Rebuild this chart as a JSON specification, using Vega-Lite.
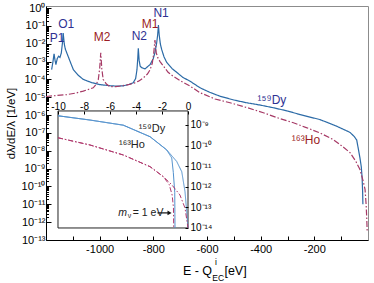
{
"$schema": "https://vega.github.io/schema/vega-lite/v6.json",
"width": 322, "height": 234,
"autosize": {"type": "none"},
"padding": {"left": 46, "top": 6, "right": 6, "bottom": 43},
"background": "white",
"config": {
  "font": "Liberation Sans",
  "view": {"stroke": "#8c8c8c", "strokeWidth": 1},
  "axis": {"labelFont": "Liberation Sans", "titleFont": "Liberation Sans", "labelColor": "#000", "tickColor": "#000", "domainColor": "#000", "grid": false, "labelFontSize": 10, "titleFontWeight": "normal", "titleColor": "#000"}
},
"datasets": {
  "main": [
    {"s":"Dy","E":-1179,"v":3.5e-4},{"s":"Dy","E":-1174,"v":1.0e-3},{"s":"Dy","E":-1170,"v":2.7e-3},{"s":"Dy","E":-1166,"v":1.1e-3},{"s":"Dy","E":-1163,"v":6.8e-4},{"s":"Dy","E":-1158,"v":1.5e-3},{"s":"Dy","E":-1153,"v":2.0e-3},{"s":"Dy","E":-1148,"v":1.7e-3},{"s":"Dy","E":-1143,"v":3.0e-3},{"s":"Dy","E":-1139,"v":1.0e-2},{"s":"Dy","E":-1136,"v":4.0e-2},{"s":"Dy","E":-1132,"v":1.0e-2},{"s":"Dy","E":-1128,"v":5.0e-3},{"s":"Dy","E":-1123,"v":3.2e-3},{"s":"Dy","E":-1110,"v":1.0e-3},{"s":"Dy","E":-1098,"v":3.5e-4},{"s":"Dy","E":-1080,"v":1.7e-4},{"s":"Dy","E":-1061,"v":1.0e-4},{"s":"Dy","E":-1030,"v":6.6e-5},{"s":"Dy","E":-999,"v":5.1e-5},{"s":"Dy","E":-960,"v":4.4e-5},{"s":"Dy","E":-936,"v":4.2e-5},{"s":"Dy","E":-910,"v":4.4e-5},{"s":"Dy","E":-890,"v":5.3e-5},{"s":"Dy","E":-875,"v":6.5e-5},{"s":"Dy","E":-866,"v":1.1e-4},{"s":"Dy","E":-861,"v":3.5e-4},{"s":"Dy","E":-858,"v":1.5e-3},{"s":"Dy","E":-856,"v":5.5e-3},{"s":"Dy","E":-853,"v":1.2e-3},{"s":"Dy","E":-849,"v":5.5e-4},{"s":"Dy","E":-843,"v":4.5e-4},{"s":"Dy","E":-831,"v":3.9e-4},{"s":"Dy","E":-812,"v":6.8e-4},{"s":"Dy","E":-800,"v":1.5e-3},{"s":"Dy","E":-794,"v":3.2e-3},{"s":"Dy","E":-788,"v":1.0e-2},{"s":"Dy","E":-784,"v":3.0e-2},{"s":"Dy","E":-781,"v":1.1e-1},{"s":"Dy","E":-778,"v":3.0e-2},{"s":"Dy","E":-774,"v":1.0e-2},{"s":"Dy","E":-769,"v":4.8e-3},{"s":"Dy","E":-760,"v":1.8e-3},{"s":"Dy","E":-750,"v":8.9e-4},{"s":"Dy","E":-730,"v":4.0e-4},{"s":"Dy","E":-713,"v":2.5e-4},{"s":"Dy","E":-690,"v":1.3e-4},{"s":"Dy","E":-663,"v":7.9e-5},{"s":"Dy","E":-626,"v":3.4e-5},{"s":"Dy","E":-590,"v":1.9e-5},{"s":"Dy","E":-552,"v":1.15e-5},{"s":"Dy","E":-500,"v":7.0e-6},{"s":"Dy","E":-452,"v":4.9e-6},{"s":"Dy","E":-400,"v":3.6e-6},{"s":"Dy","E":-354,"v":2.6e-6},{"s":"Dy","E":-300,"v":1.7e-6},{"s":"Dy","E":-253,"v":1.07e-6},{"s":"Dy","E":-179,"v":5.6e-7},{"s":"Dy","E":-117,"v":2.4e-7},{"s":"Dy","E":-67,"v":1.07e-7},{"s":"Dy","E":-52,"v":6.5e-8},{"s":"Dy","E":-42,"v":4.0e-8},{"s":"Dy","E":-36,"v":1.26e-8},{"s":"Dy","E":-30,"v":4.0e-9},{"s":"Dy","E":-25,"v":1.26e-9},{"s":"Dy","E":-22,"v":3.2e-10},{"s":"Dy","E":-20,"v":5.0e-11},{"s":"Dy","E":-19,"v":1.0e-11},
    {"s":"Ho","E":-1200,"v":1.1e-5},{"s":"Ho","E":-1160,"v":1.25e-5},{"s":"Ho","E":-1123,"v":1.4e-5},{"s":"Ho","E":-1090,"v":1.7e-5},{"s":"Ho","E":-1061,"v":2.2e-5},{"s":"Ho","E":-1040,"v":2.8e-5},{"s":"Ho","E":-1024,"v":3.4e-5},{"s":"Ho","E":-1012,"v":5.5e-5},{"s":"Ho","E":-1005,"v":1.0e-4},{"s":"Ho","E":-1000,"v":4.0e-4},{"s":"Ho","E":-996,"v":3.1e-3},{"s":"Ho","E":-992,"v":4.0e-4},{"s":"Ho","E":-987,"v":1.0e-4},{"s":"Ho","E":-975,"v":5.5e-5},{"s":"Ho","E":-961,"v":3.9e-5},{"s":"Ho","E":-940,"v":3.9e-5},{"s":"Ho","E":-920,"v":4.3e-5},{"s":"Ho","E":-900,"v":4.8e-5},{"s":"Ho","E":-875,"v":5.9e-5},{"s":"Ho","E":-855,"v":8.0e-5},{"s":"Ho","E":-837,"v":1.23e-4},{"s":"Ho","E":-822,"v":2.0e-4},{"s":"Ho","E":-812,"v":3.5e-4},{"s":"Ho","E":-804,"v":8.0e-4},{"s":"Ho","E":-799,"v":2.5e-3},{"s":"Ho","E":-794,"v":1.6e-2},{"s":"Ho","E":-789,"v":3.0e-3},{"s":"Ho","E":-783,"v":1.6e-3},{"s":"Ho","E":-775,"v":1.0e-3},{"s":"Ho","E":-760,"v":5.0e-4},{"s":"Ho","E":-745,"v":2.5e-4},{"s":"Ho","E":-726,"v":1.5e-4},{"s":"Ho","E":-700,"v":8.5e-5},{"s":"Ho","E":-663,"v":4.2e-5},{"s":"Ho","E":-626,"v":1.8e-5},{"s":"Ho","E":-570,"v":8.0e-6},{"s":"Ho","E":-514,"v":4.9e-6},{"s":"Ho","E":-450,"v":2.6e-6},{"s":"Ho","E":-390,"v":1.35e-6},{"s":"Ho","E":-330,"v":6.5e-7},{"s":"Ho","E":-278,"v":3.7e-7},{"s":"Ho","E":-230,"v":2.0e-7},{"s":"Ho","E":-179,"v":1.0e-7},{"s":"Ho","E":-130,"v":4.3e-8},{"s":"Ho","E":-100,"v":2.0e-8},{"s":"Ho","E":-67,"v":7.9e-9},{"s":"Ho","E":-45,"v":2.5e-9},{"s":"Ho","E":-30,"v":8.9e-10},{"s":"Ho","E":-18,"v":2e-10},{"s":"Ho","E":-11,"v":6.8e-11},{"s":"Ho","E":-7,"v":1e-11},{"s":"Ho","E":-5,"v":2.2e-12},{"s":"Ho","E":-3,"v":3e-13}
  ],
  "mainlab": [
    {"t":"P1","E":-1159,"v":0.022,"g":"b"},
    {"t":"O1","E":-1125,"v":0.135,"g":"b"},
    {"t":"M2","E":-991,"v":0.0224,"g":"r"},
    {"t":"N2","E":-852,"v":0.0263,"g":"b"},
    {"t":"M1","E":-812,"v":0.12,"g":"r"},
    {"t":"N1","E":-771,"v":0.537,"g":"b"},
    {"t":"¹⁵⁹Dy","E":-358,"v":7.4e-6,"g":"b"},
    {"t":"¹⁶³Ho","E":-231,"v":3.8e-8,"g":"r"}
  ],
  "xt_big_r": [{"t":"E - Q","E":-581,"v":1.8e-15}],
  "xt_big_l": [{"t":"[eV]","E":-535,"v":1.8e-15}],
  "xt_small": [{"t":"i","E":-567,"v":5.9e-15},{"t":"EC","E":-558,"v":7.4e-16}],
  "inset": [
    {"s":"Dy0","x":-10,"v":2.8e-9},{"s":"Dy0","x":-7.54,"v":1.74e-9},{"s":"Dy0","x":-4.98,"v":9.8e-10},{"s":"Dy0","x":-2.92,"v":2.7e-10},{"s":"Dy0","x":-1.64,"v":6.2e-11},{"s":"Dy0","x":-0.87,"v":1.7e-11},{"s":"Dy0","x":-0.48,"v":5.4e-12},{"s":"Dy0","x":-0.23,"v":5.8e-13},{"s":"Dy0","x":-0.1,"v":6.3e-14},{"s":"Dy0","x":0,"v":1e-14},
    {"s":"Dy1","x":-10,"v":2.8e-9},{"s":"Dy1","x":-7.54,"v":1.74e-9},{"s":"Dy1","x":-4.98,"v":9.8e-10},{"s":"Dy1","x":-2.92,"v":2.7e-10},{"s":"Dy1","x":-1.64,"v":6.2e-11},{"s":"Dy1","x":-1.25,"v":2.5e-11},{"s":"Dy1","x":-1.13,"v":5e-12},{"s":"Dy1","x":-1.02,"v":5.4e-13},{"s":"Dy1","x":-1.0,"v":1e-14},
    {"s":"Ho0","x":-10,"v":2.4e-10},{"s":"Ho0","x":-7.54,"v":1.07e-10},{"s":"Ho0","x":-4.98,"v":3.5e-11},{"s":"Ho0","x":-2.92,"v":9.5e-12},{"s":"Ho0","x":-1.9,"v":3.1e-12},{"s":"Ho0","x":-1.25,"v":1.26e-12},{"s":"Ho0","x":-0.62,"v":4e-13},{"s":"Ho0","x":-0.23,"v":9.3e-14},{"s":"Ho0","x":0,"v":1e-14},
    {"s":"Ho1","x":-10,"v":2.4e-10},{"s":"Ho1","x":-7.54,"v":1.07e-10},{"s":"Ho1","x":-4.98,"v":3.5e-11},{"s":"Ho1","x":-2.92,"v":9.5e-12},{"s":"Ho1","x":-1.9,"v":3.1e-12},{"s":"Ho1","x":-1.45,"v":1.3e-12},{"s":"Ho1","x":-1.22,"v":4e-13},{"s":"Ho1","x":-1.12,"v":1e-13},{"s":"Ho1","x":-1.1,"v":1e-14}
  ],
  "frame": [{"x":-10,"x2":0,"v":1e-14,"v2":4.8e-9}],
  "insetlab": [
    {"t":"¹⁵⁹Dy","x":-2.77,"v":6.5e-10},
    {"t":"¹⁶³Ho","x":-4.31,"v":1.07e-10}
  ],
  "mlab_m": [{"t":"m","x":-4.69,"v":5.4e-14}],
  "mlab_nu": [{"t":"ν","x":-4.5,"v":3.9e-14}],
  "mlab_rest": [{"t":"= 1 eV","x":-4.25,"v":5.4e-14}],
  "arrow": [{"x":-2.35,"x2":-1.5,"v":5.4e-14}],
  "arrowhead": [{"x":-1.42,"v":5.4e-14}]
},
"layer": [
  {
    "encoding": {
      "x": {"field": "E", "type": "quantitative", "scale": {"domain": [-1200, 0], "nice": false, "zero": false},
            "axis": {"orient": "bottom", "values": [-1100,-1000,-900,-800,-700,-600,-500,-400,-300,-200,-100], "labelExpr": "indexof([-1000,-800,-600,-400,-200], datum.value) >= 0 ? ('' + datum.value) : ''", "tickSize": -4, "labelPadding": 7, "title": "", "labelOverlap": false, "labelFlush": false, "labelFontSize": 11}},
      "y": {"field": "v", "type": "quantitative", "scale": {"type": "log", "domain": [1e-13, 1.3], "nice": false},
            "axis": {"orient": "left", "values": [1,1e-1,2e-1,3e-1,4e-1,5e-1,6e-1,7e-1,8e-1,9e-1,1e-2,2e-2,3e-2,4e-2,5e-2,6e-2,7e-2,8e-2,9e-2,1e-3,2e-3,3e-3,4e-3,5e-3,6e-3,7e-3,8e-3,9e-3,1e-4,2e-4,3e-4,4e-4,5e-4,6e-4,7e-4,8e-4,9e-4,1e-5,2e-5,3e-5,4e-5,5e-5,6e-5,7e-5,8e-5,9e-5,1e-6,2e-6,3e-6,4e-6,5e-6,6e-6,7e-6,8e-6,9e-6,1e-7,2e-7,3e-7,4e-7,5e-7,6e-7,7e-7,8e-7,9e-7,1e-8,2e-8,3e-8,4e-8,5e-8,6e-8,7e-8,8e-8,9e-8,1e-9,2e-9,3e-9,4e-9,5e-9,6e-9,7e-9,8e-9,9e-9,1e-10,2e-10,3e-10,4e-10,5e-10,6e-10,7e-10,8e-10,9e-10,1e-11,2e-11,3e-11,4e-11,5e-11,6e-11,7e-11,8e-11,9e-11,1e-12,2e-12,3e-12,4e-12,5e-12,6e-12,7e-12,8e-12,9e-12,1e-13],
                     "labelExpr": "abs(log(datum.value)/LN10 - round(log(datum.value)/LN10)) < 0.01 ? ['10⁰','10⁻¹','10⁻²','10⁻³','10⁻⁴','10⁻⁵','10⁻⁶','10⁻⁷','10⁻⁸','10⁻⁹','10⁻¹⁰','10⁻¹¹','10⁻¹²','10⁻¹³','10⁻¹⁴'][round(-log(datum.value)/LN10)] : ''",
                     "tickSize": {"condition": {"test": "abs(log(datum.value)/LN10 - round(log(datum.value)/LN10)) < 0.01", "value": -5}, "value": -2.5},
                     "labelPadding": 6, "labelOverlap": false, "labelFlush": false, "labelFontSize": 11,
                     "title": "dλ/dE/λ [1/eV]", "titleFontSize": 11.5, "titlePadding": 5}}
    },
    "layer": [
      {"data": {"name": "main"}, "mark": {"type": "line", "strokeWidth": 1.2, "clip": true},
       "encoding": {
         "stroke": {"field": "s", "type": "nominal", "scale": {"domain": ["Dy", "Ho"], "range": ["#2b6aa6", "#a63a66"]}, "legend": null},
         "strokeDash": {"field": "s", "type": "nominal", "scale": {"domain": ["Dy", "Ho"], "range": [[1, 0], [6, 2, 1.5, 2]]}, "legend": null}
       }},
      {"data": {"name": "mainlab"}, "mark": {"type": "text", "fontSize": 12, "align": "center", "baseline": "middle"},
       "encoding": {"text": {"field": "t"},
                    "fill": {"field": "g", "type": "nominal", "scale": {"domain": ["b", "r"], "range": ["#2e3192", "#9b1c24"]}, "legend": null}}},
      {"data": {"name": "xt_big_r"}, "mark": {"type": "text", "fontSize": 12.5, "align": "right", "baseline": "middle", "color": "#000"},
       "encoding": {"text": {"field": "t"}}},
      {"data": {"name": "xt_big_l"}, "mark": {"type": "text", "fontSize": 12.5, "align": "left", "baseline": "middle", "color": "#000"},
       "encoding": {"text": {"field": "t"}}},
      {"data": {"name": "xt_small"}, "mark": {"type": "text", "fontSize": 8.5, "align": "center", "baseline": "middle", "color": "#000"},
       "encoding": {"text": {"field": "t"}}}
    ]
  },
  {
    "encoding": {
      "x": {"field": "x", "type": "quantitative", "scale": {"domain": [-10.923, 13.846], "nice": false, "zero": false},
            "axis": {"orient": "top", "values": [-10,-8,-6,-4,-2,0], "labelExpr": "'' + datum.value", "offset": -105, "domain": false, "tickSize": -3, "labelPadding": 3, "title": "", "zindex": 1, "labelOverlap": false, "labelFlush": false, "labelFontSize": 10}},
      "y": {"field": "v", "type": "quantitative", "scale": {"type": "log", "domain": [2.61e-15, 5.98e-4], "nice": false},
            "axis": {"orient": "right", "values": [1e-9,1e-10,1e-11,1e-12,1e-13,1e-14], "labelExpr": "['10⁰','10⁻¹','10⁻²','10⁻³','10⁻⁴','10⁻⁵','10⁻⁶','10⁻⁷','10⁻⁸','10⁻⁹','10⁻¹⁰','10⁻¹¹','10⁻¹²','10⁻¹³','10⁻¹⁴'][round(-log(datum.value)/LN10)]", "offset": -180, "domain": false, "tickSize": -3, "labelPadding": 5, "title": "", "zindex": 1, "labelOverlap": false, "labelFlush": false, "labelFontSize": 10}}
    },
    "layer": [
      {"data": {"name": "frame"}, "mark": {"type": "rect", "fill": "white", "stroke": "#222", "strokeWidth": 1},
       "encoding": {"x2": {"field": "x2"}, "y2": {"field": "v2"}}},
      {"data": {"name": "inset"}, "mark": {"type": "line", "strokeWidth": 1},
       "encoding": {
         "stroke": {"field": "s", "type": "nominal", "scale": {"domain": ["Dy0", "Dy1", "Ho0", "Ho1"], "range": ["#4f8fcc", "#4f8fcc", "#b03a6e", "#b03a6e"]}, "legend": null},
         "strokeDash": {"field": "s", "type": "nominal", "scale": {"domain": ["Dy0", "Dy1", "Ho0", "Ho1"], "range": [[1, 0], [1, 0], [5, 2, 1.5, 2], [5, 2, 1.5, 2]]}, "legend": null}
       }},
      {"data": {"name": "insetlab"}, "mark": {"type": "text", "fontSize": 11, "align": "center", "baseline": "middle", "color": "#222"},
       "encoding": {"text": {"field": "t"}}},
      {"data": {"name": "mlab_m"}, "mark": {"type": "text", "fontSize": 10.5, "fontStyle": "italic", "align": "right", "baseline": "middle", "color": "#222"},
       "encoding": {"text": {"field": "t"}}},
      {"data": {"name": "mlab_nu"}, "mark": {"type": "text", "fontSize": 7, "align": "center", "baseline": "middle", "color": "#222"},
       "encoding": {"text": {"field": "t"}}},
      {"data": {"name": "mlab_rest"}, "mark": {"type": "text", "fontSize": 10.5, "align": "left", "baseline": "middle", "color": "#222"},
       "encoding": {"text": {"field": "t"}}},
      {"data": {"name": "arrow"}, "mark": {"type": "rule", "color": "#111", "strokeWidth": 1.2},
       "encoding": {"x2": {"field": "x2"}}},
      {"data": {"name": "arrowhead"}, "mark": {"type": "point", "shape": "triangle-right", "filled": true, "color": "#111", "size": 22, "opacity": 1},
       "encoding": {}}
    ]
  }
],
"resolve": {"scale": {"x": "independent", "y": "independent", "stroke": "independent", "strokeDash": "independent", "fill": "independent"}}
}
